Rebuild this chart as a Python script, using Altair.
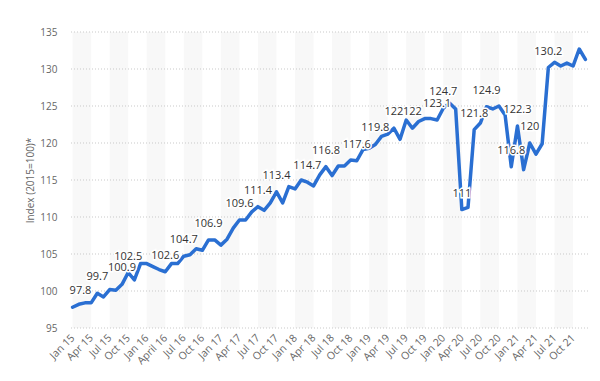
import json
import altair as alt
import pandas as pd

# ---- data ----
MONTHS = ["Jan", "Feb", "Mar", "Apr", "May", "Jun", "Jul", "Aug", "Sep", "Oct", "Nov", "Dec"]
YEARS = ["15", "16", "17", "18", "19", "20", "21"]
months = [f"{m} {y}" for y in YEARS for m in MONTHS]
months[months.index("Apr 16")] = "April 16"

values = [
    97.8, 98.2, 98.4, 98.4, 99.7, 99.2, 100.2, 100.1, 100.9, 102.5, 101.5, 103.7,
    103.7, 103.3, 102.9, 102.6, 103.7, 103.7, 104.7, 104.9, 105.7, 105.5, 106.9, 106.9,
    106.2, 107.0, 108.5, 109.6, 109.6, 110.7, 111.4, 110.9, 111.9, 113.4, 111.9, 114.1,
    113.8, 115.0, 114.7, 114.2, 115.7, 116.8, 115.6, 116.9, 116.9, 117.7, 117.6, 119.1,
    119.3, 119.8, 120.9, 121.2, 122.0, 120.5, 123.1, 122.0, 122.9, 123.3, 123.3, 123.1,
    124.7, 125.4, 124.6, 111.0, 111.3, 121.8, 122.7, 124.9, 124.6, 125.0, 123.8, 116.8,
    122.3, 116.4, 120.0, 118.5, 119.9, 130.2, 130.9, 130.4, 130.8, 130.4, 132.7, 131.3,
]

labeled_months = [0, 4, 8, 9, 15, 18, 22, 27, 30, 33, 38, 41, 46, 49, 52, 55,
                  59, 60, 63, 65, 67, 71, 72, 74, 77]

tick_labels = months[::3]
tick_positions = list(range(0, len(months), 3))
y_ticks = [95, 100, 105, 110, 115, 120, 125, 130, 135]
band_starts = list(range(0, len(months), 6))
band_ends = [s + 3 for s in band_starts]

# ---- tables ----
df = pd.DataFrame({"i": list(range(len(months))), "month": months, "value": values})
df["label"] = ["" for _ in months]
for k in labeled_months:
    df.loc[k, "label"] = f"{values[k]:g}"

bands = pd.DataFrame({"start": band_starts, "end": band_ends})
grid = pd.DataFrame({"g": y_ticks})

FONT = "Open Sans"
W, H = 518, 296
xscale = alt.Scale(domain=[-0.42, 83.42], nice=False, zero=False)
yscale = alt.Scale(domain=[95, 135], nice=False, zero=False)

label_expr = json.dumps(tick_labels) + "[round(datum.value / 3)]"

xaxis = alt.Axis(
    values=tick_positions,
    labelExpr=label_expr,
    labelAngle=-45,
    labelAlign="right",
    labelBaseline="middle",
    labelPadding=8,
    labelFontSize=10.5,
    labelColor="#666666",
    labelFont=FONT,
    ticks=False,
    domain=False,
    grid=False,
    title=None,
    labelOverlap=False,
)
yaxis = alt.Axis(
    values=y_ticks,
    labelFontSize=10,
    labelColor="#666666",
    labelFont=FONT,
    labelPadding=13,
    ticks=False,
    domain=False,
    grid=False,
    title="Index (2015=100)*",
    titleFontSize=10,
    titleFontWeight="normal",
    titleColor="#666666",
    titleFont=FONT,
    titlePadding=4,
)

band_layer = alt.Chart(bands).mark_rect(color="#f8f8f8").encode(
    x=alt.X("start:Q", scale=xscale, axis=xaxis),
    x2="end:Q",
    y=alt.value(0),
    y2=alt.value(H),
)

grid_layer = alt.Chart(grid).mark_rule(
    color="#c9c9c9", strokeDash=[1, 2], strokeWidth=1
).encode(y=alt.Y("g:Q", scale=yscale, axis=yaxis))

line_layer = alt.Chart(df).mark_line(
    color="#2a6fd2", strokeWidth=3.5, strokeJoin="round", strokeCap="round"
).encode(
    x=alt.X("i:Q", scale=xscale, axis=xaxis),
    y=alt.Y("value:Q", scale=yscale, axis=yaxis),
)

lab = alt.Chart(df).transform_filter("datum.label != '' && datum.i > 0")
first = alt.Chart(df).transform_filter("datum.label != '' && datum.i == 0")

enc = dict(
    x=alt.X("i:Q", scale=xscale, axis=xaxis),
    y=alt.Y("value:Q", scale=yscale, axis=yaxis),
    text="label:N",
)

halo = lab.mark_text(
    dy=-16, fontSize=11, font=FONT, color="#333333", stroke="white", strokeWidth=3,
    baseline="middle", align="center"
).encode(**enc)
text = lab.mark_text(
    dy=-16, fontSize=11, font=FONT, color="#333333", baseline="middle", align="center"
).encode(**enc)

first_halo = first.mark_text(
    dy=-16, dx=-3, fontSize=11, font=FONT, color="#333333", stroke="white", strokeWidth=3,
    baseline="middle", align="left"
).encode(**enc)
first_text = first.mark_text(
    dy=-16, dx=-3, fontSize=11, font=FONT, color="#333333", baseline="middle", align="left"
).encode(**enc)

chart = (
    alt.layer(band_layer, grid_layer, line_layer, halo, text, first_halo, first_text)
    .properties(
        width=W,
        height=H,
        padding={"left": 62, "top": 24, "right": 4, "bottom": 45},
        autosize=alt.AutoSizeParams(type="none"),
        background="white",
    )
    .configure_view(strokeWidth=0)
)

chart.save("out.html", embed_options={"renderer": "svg", "actions": False})
